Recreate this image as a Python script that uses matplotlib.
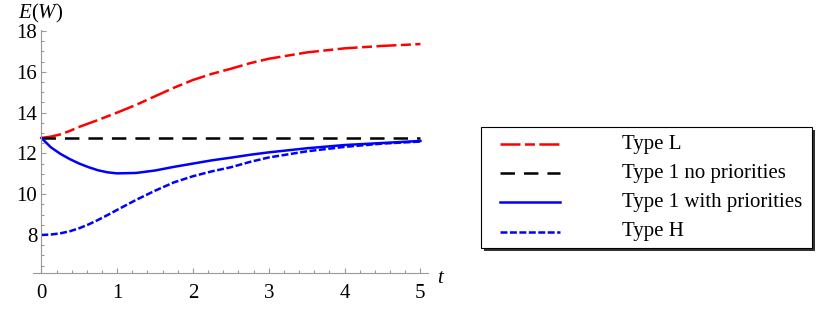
import matplotlib
matplotlib.use("Agg")
import matplotlib.pyplot as plt
from matplotlib.lines import Line2D
from matplotlib.patches import Rectangle
from matplotlib.ticker import MultipleLocator

plt.rcParams.update({
    'font.family': 'Liberation Serif',
    'font.size': 15,
    'mathtext.fontset': 'custom',
    'mathtext.rm': 'Liberation Serif',
    'mathtext.it': 'Liberation Serif:italic',
    'lines.scale_dashes': False,
})

# values
t = [0, 0.125, 0.25, 0.375, 0.5, 0.625, 0.75, 0.875, 1, 1.25, 1.5, 1.75, 2, 2.25, 2.5,
     2.75, 3, 3.5, 4, 4.5, 5]
type_l = [12.76, 12.82, 12.93, 13.1, 13.3, 13.47, 13.64, 13.82, 14.0, 14.38, 14.8, 15.22,
          15.6, 15.9, 16.15, 16.42, 16.64, 16.95, 17.15, 17.27, 17.36]
type_1_noprio = [12.76] * len(t)
type_1_prio = [12.76, 12.3, 11.98, 11.72, 11.5, 11.32, 11.17, 11.07, 11.02, 11.04, 11.16,
               11.34, 11.5, 11.66, 11.79, 11.93, 12.05, 12.25, 12.41, 12.51, 12.61]
type_h = [8.0, 8.02, 8.08, 8.18, 8.33, 8.52, 8.74, 8.98, 9.23, 9.72, 10.17, 10.58, 10.88,
          11.12, 11.32, 11.58, 11.8, 12.1, 12.32, 12.48, 12.58]

labels = ["Type L", "Type 1 no priorities", "Type 1 with priorities", "Type H"]
series = [type_l, type_1_noprio, type_1_prio, type_h]
styles = [
    dict(color="#ff0000", dashes=[14.4, 3.2, 7.2, 3.2]),
    dict(color="black", dashes=[10.4, 6.5]),
    dict(color="#0000ff", linestyle="-"),
    dict(color="#0000ff", dashes=[5, 1.8]),
]

W, H = 830, 319
fig = plt.figure(figsize=(W / 100, H / 100), dpi=100)

def fx(px):
    return px / W

def fy(py):
    return 1 - py / H

# axes box in pixels
left, right, top, bottom = 33, 428, 30, 273.3
ax = fig.add_axes([fx(left), fy(bottom), fx(right - left), (bottom - top) / H])

for y, lab, st in zip(series, labels, styles):
    ax.plot(t, y, lw=1.8, label=lab, **st)

ax.set_xlim(-0.11, 5.1)
ax.set_ylim(6.12, 18.05)
ax.spines['top'].set_visible(False)
ax.spines['right'].set_visible(False)
ax.spines['left'].set_position(('data', 0))
for s in ['left', 'bottom']:
    ax.spines[s].set_color('#999999')
    ax.spines[s].set_linewidth(0.8)

ax.xaxis.set_major_locator(MultipleLocator(1))
ax.xaxis.set_minor_locator(MultipleLocator(0.2))
ax.yaxis.set_major_locator(MultipleLocator(2))
ax.yaxis.set_minor_locator(MultipleLocator(0.5))
ax.set_yticks(range(8, 19, 2))
ax.tick_params(which='both', direction='in', color='#999999', width=0.8)
ax.tick_params(which='major', length=3.5)
ax.tick_params(which='minor', length=2)
ax.tick_params(axis='x', which='major', pad=8)
ax.tick_params(axis='y', which='major', pad=3)
ax.set_facecolor('none')

fig.text(fx(18), fy(18.5), r'$E(W)$', va='baseline', ha='left')
fig.text(fx(437), fy(283), r'$t$', va='baseline', ha='left')

# legend box with shadow
bx0, bx1, by0, by1 = 481, 812, 127, 248
fig.patches.append(Rectangle((fx(bx0 + 2.5), fy(by1 + 2.5)), fx(bx1 - bx0), (by1 - by0) / H,
                             transform=fig.transFigure, facecolor='#333333', edgecolor='none'))
fig.patches.append(Rectangle((fx(bx0), fy(by1)), fx(bx1 - bx0), (by1 - by0) / H,
                             transform=fig.transFigure, facecolor='white', edgecolor='black', lw=0.8))
rows = [144, 173.3, 202.3, 231.7]
for r, lab, st in zip(rows, labels, styles):
    fig.lines.append(Line2D([fx(500), fx(560)], [fy(r), fy(r)], transform=fig.transFigure,
                            lw=1.8, **st))
    fig.text(fx(622), fy(r), lab, va='center', ha='left')

fig.savefig("out.png", dpi=100)
